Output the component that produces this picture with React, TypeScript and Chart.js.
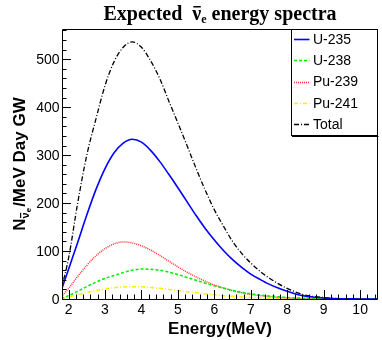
import { useEffect, useRef } from 'react';
import { Chart, registerables } from 'chart.js';

Chart.register(...registerables);

// Energy grid (MeV)
const energies = [1.8, 2.0, 2.25, 2.5, 2.75, 3.0, 3.25, 3.5, 3.75, 4.0, 4.25, 4.5, 4.75, 5.0, 5.25, 5.5, 5.75, 6.0, 6.25, 6.5, 6.75, 7.0, 7.25, 7.5, 7.75, 8.0, 8.25, 8.5, 8.75, 9.0, 9.25, 9.5, 9.75, 10.0, 10.25, 10.5];

const u235 = [18, 62, 118, 175, 228, 272, 305, 325, 333, 327, 310, 287, 260, 232, 203, 174, 147, 123, 101, 82, 66, 52, 41, 31, 23, 16, 10, 6, 3.5, 2, 1, 0.5, 0.3, 0.1, 0, 0];
const u238 = [1, 7, 16, 26, 35, 43, 49, 55, 60, 62.5, 62, 60, 56, 51, 45, 39, 33, 27.5, 22.5, 18, 14, 11, 8.3, 6.2, 4.5, 3.2, 2.2, 1.5, 1, 0.6, 0.4, 0.2, 0.1, 0, 0, 0];
const pu239 = [5, 22, 47, 70, 90, 105, 115, 119, 117, 111, 102, 91, 79, 67, 56, 46, 37, 29, 23, 17.5, 13, 9.5, 7, 5, 3.5, 2.3, 1.5, 0.9, 0.5, 0.3, 0.2, 0.1, 0, 0, 0, 0];
const pu241 = [1, 4, 9, 13.5, 17.5, 21, 23.5, 25.2, 25.7, 25.3, 24, 22.2, 20, 17.7, 15.3, 13, 10.8, 8.8, 7, 5.5, 4.2, 3.2, 2.4, 1.7, 1.2, 0.8, 0.5, 0.3, 0.2, 0.1, 0, 0, 0, 0, 0, 0];
const total = [20, 85, 200, 300, 375, 445, 495, 525, 536, 525, 497, 460, 413, 367, 320, 272, 227, 186, 152, 120, 95, 75, 58, 44, 32, 22, 14, 8, 5, 3, 1.5, 0.8, 0.4, 0.2, 0.1, 0];

const seriesNames = ['U-235', 'U-238', 'Pu-239', 'Pu-241', 'Total'];
const xTickValues = [2, 3, 4, 5, 6, 7, 8, 9, 10];
const yTickValues = [0, 100, 200, 300, 400, 500];

const X_MIN = 1.82;
const X_MAX = 10.49;
const Y_MIN = 0;
const Y_MAX = 563;

const styles = [
  { color: '#0000ff', dash: [] as number[], width: 1.6 },
  { color: '#00ee00', dash: [3, 2], width: 1.5 },
  { color: '#ff3030', dash: [1, 1], width: 1.5 },
  { color: '#ffee00', dash: [4, 2, 1, 2], width: 1.5 },
  { color: '#000000', dash: [5, 2, 1, 2], width: 1.3 },
];

const seriesValues = [u235, u238, pu239, pu241, total];

const SANS = '"Liberation Sans", Arial, Helvetica, sans-serif';
const SERIF = '"Liberation Serif", "Times New Roman", serif';

const rootPlugin = {
  id: 'rootStyle',
  afterDraw(chart: any) {
    const { ctx, chartArea: a, scales } = chart;
    const xs = scales.x;
    const ys = scales.y;
    ctx.save();

    // Frame
    ctx.lineWidth = 1;
    ctx.strokeStyle = '#000';
    ctx.beginPath();
    ctx.moveTo(Math.round(a.left) + 0.5, Math.round(a.top) + 0.5);
    ctx.lineTo(Math.round(a.right) - 0.5, Math.round(a.top) + 0.5);
    ctx.lineTo(Math.round(a.right) - 0.5, Math.round(a.bottom) + 0.5);
    ctx.lineTo(Math.round(a.left) + 0.5, Math.round(a.bottom) + 0.5);
    ctx.closePath();
    ctx.stroke();

    // Y ticks (inside)
    ctx.beginPath();
    for (let v = 0; v <= Y_MAX; v += 20) {
      const py = Math.round(ys.getPixelForValue(v)) + 0.5;
      const len = v % 100 === 0 ? 9 : 4.5;
      ctx.moveTo(a.left, py);
      ctx.lineTo(a.left + len, py);
    }
    // X ticks (inside)
    for (let i = 10; i <= 52; i++) {
      const v = i * 0.2;
      if (v < X_MIN || v > X_MAX) continue;
      const px = Math.round(xs.getPixelForValue(v)) + 0.5;
      const len = i % 5 === 0 ? 9 : 4.5;
      ctx.moveTo(px, a.bottom);
      ctx.lineTo(px, a.bottom - len);
    }
    ctx.stroke();

    // Tick labels
    ctx.fillStyle = '#000';
    ctx.font = `14px ${SANS}`;
    ctx.textAlign = 'right';
    ctx.textBaseline = 'alphabetic';
    yTickValues.forEach((v) => {
      ctx.fillText(String(v), a.left - 2.5, ys.getPixelForValue(v) + 5);
    });
    ctx.textAlign = 'center';
    xTickValues.forEach((v) => {
      ctx.fillText(String(v), xs.getPixelForValue(v), a.bottom + 14.5);
    });

    // X title
    ctx.font = `bold 17px ${SANS}`;
    ctx.textAlign = 'center';
    ctx.fillText('Energy(MeV)', (a.left + a.right) / 2, 333.5);

    // Y title (rotated)
    ctx.save();
    ctx.translate(25, (a.top + a.bottom) / 2);
    ctx.rotate(-Math.PI / 2);
    ctx.textAlign = 'left';
    const fMain = `bold 17px ${SANS}`;
    const fSub = `bold 11px ${SANS}`;
    const fSub2 = `bold 8px ${SANS}`;
    ctx.font = fMain;
    const wN = ctx.measureText('N').width;
    const wRest = ctx.measureText('/MeV Day GW').width;
    ctx.font = fSub;
    const wNu = ctx.measureText('ν').width;
    ctx.font = fSub2;
    const wE = ctx.measureText('e').width;
    const totalW = wN + wNu + wE + 1 + wRest;
    let cx = -totalW / 2;
    ctx.font = fMain;
    ctx.fillText('N', cx, 0);
    cx += wN;
    ctx.font = fSub;
    ctx.fillText('ν', cx, 4);
    ctx.fillRect(cx + 0.5, -5, wNu - 1, 1.2);
    cx += wNu;
    ctx.font = fSub2;
    ctx.fillText('e', cx, 6);
    cx += wE + 1;
    ctx.font = fMain;
    ctx.fillText('/MeV Day GW', cx, 0);
    ctx.restore();

    // Title
    ctx.textAlign = 'left';
    const tMain = `bold 20px ${SERIF}`;
    const tSub = `bold 12px ${SERIF}`;
    ctx.font = tMain;
    const w1 = ctx.measureText('Expected  ').width;
    const wnu = ctx.measureText('ν').width;
    const w3 = ctx.measureText(' energy spectra').width;
    ctx.font = tSub;
    const we = ctx.measureText('e').width;
    const tw = w1 + wnu + we + w3;
    let tx = (a.left + a.right) / 2 - tw / 2;
    const ty = 20;
    ctx.font = tMain;
    ctx.fillText('Expected  ', tx, ty);
    tx += w1;
    ctx.fillText('ν', tx, ty);
    ctx.fillRect(tx + 1, ty - 14, wnu - 1.5, 1.5);
    tx += wnu;
    ctx.font = tSub;
    ctx.fillText('e', tx, ty + 3);
    tx += we;
    ctx.font = tMain;
    ctx.fillText(' energy spectra', tx, ty);

    // Legend
    const lx0 = 291;
    const ly0 = Math.round(a.top) + 0.5;
    const lx1 = Math.round(a.right) - 0.5;
    const ly1 = 135.5;
    ctx.fillStyle = '#fff';
    ctx.fillRect(lx0, ly0, lx1 - lx0, ly1 - ly0);
    ctx.strokeStyle = '#000';
    ctx.lineWidth = 1;
    ctx.strokeRect(lx0 + 0.5, ly0, lx1 - lx0 - 0.5, ly1 - ly0);
    ctx.beginPath();
    ctx.moveTo(lx0 + 1, ly1 + 1);
    ctx.lineTo(lx1 + 1, ly1 + 1);
    ctx.stroke();

    ctx.font = `14px ${SANS}`;
    ctx.textBaseline = 'middle';
    seriesNames.forEach((name, i) => {
      const yy = 39 + i * 21.3;
      const st = styles[i];
      ctx.save();
      ctx.strokeStyle = st.color;
      ctx.lineWidth = st.width;
      ctx.setLineDash(st.dash);
      ctx.beginPath();
      ctx.moveTo(294, Math.round(yy) + 0.5);
      ctx.lineTo(309.5, Math.round(yy) + 0.5);
      ctx.stroke();
      ctx.restore();
      ctx.fillStyle = '#000';
      ctx.fillText(name, 313, yy + 1);
    });

    ctx.restore();
  },
};

export default function App() {
  const ref = useRef<HTMLCanvasElement | null>(null);
  useEffect(() => {
    if (!ref.current) return;
    const datasets = seriesValues.map((vals, i) => ({
      label: seriesNames[i],
      data: energies.map((e, k) => ({ x: e, y: vals[k] })),
      borderColor: styles[i].color,
      borderDash: styles[i].dash,
      borderWidth: styles[i].width,
      pointRadius: 0,
      fill: false,
      cubicInterpolationMode: 'monotone' as const,
    }));
    const chart = new Chart(ref.current, {
      type: 'line',
      data: { datasets },
      options: {
        animation: false,
        responsive: false,
        devicePixelRatio: 1,
        layout: { padding: { left: 62, right: 4, top: 29, bottom: 41 } },
        scales: {
          x: { type: 'linear', min: X_MIN, max: X_MAX, display: false },
          y: { type: 'linear', min: Y_MIN, max: Y_MAX, display: false },
        },
        plugins: {
          legend: { display: false },
          tooltip: { enabled: false },
          title: { display: false },
        },
      },
      plugins: [rootPlugin],
    });
    return () => chart.destroy();
  }, []);
  return (
    <div style={{ position: 'fixed', left: 0, top: 0, width: 382, height: 340, background: '#fff' }}>
      <canvas ref={ref} width={382} height={340} style={{ display: 'block', width: 382, height: 340 }} />
    </div>
  );
}
